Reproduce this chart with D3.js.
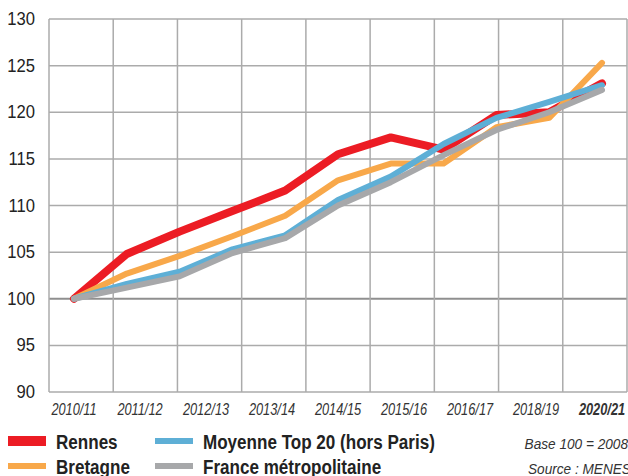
<!DOCTYPE html>
<html>
<head>
<meta charset="utf-8">
<script src="https://cdn.jsdelivr.net/npm/d3@7"></script>
<style>
  body { margin: 0; background: #fff; }
  svg text { font-family: "Liberation Sans", Arial, sans-serif; }
</style>
</head>
<body>
<div id="chart"></div>
<script>
// years of the series (one point a year)
var years = ["2010/11", "2011/12", "2012/13", "2013/14", "2014/15", "2015/16",
             "2016/17", "2017/18", "2018/19", "2019/20", "2020/21"];
// labels printed under the axis
var tickLabels = ["2010/11", "2011/12", "2012/13", "2013/14", "2014/15",
                  "2015/16", "2016/17", "2018/19", "2020/21"];
var yTicks = [90, 95, 100, 105, 110, 115, 120, 125, 130];

var rennes   = [100, 104.8, 107.2, 109.4, 111.6, 115.5, 117.3, 116.0, 119.7, 120.0, 123.1];
var bretagne = [100, 102.7, 104.6, 106.7, 108.9, 112.7, 114.5, 114.5, 118.4, 119.4, 125.3];
var top20    = [100, 101.6, 102.9, 105.3, 106.8, 110.6, 113.1, 116.6, 119.4, 121.1, 122.9];
var france   = [100, 101.2, 102.4, 104.9, 106.5, 110.0, 112.5, 115.4, 118.1, 120.0, 122.4];

var series = [
  {name: "Rennes", values: rennes, color: "#ec1c24", width: 8},
  {name: "Bretagne", values: bretagne, color: "#f8a84a", width: 6},
  {name: "Moyenne Top 20 (hors Paris)", values: top20, color: "#5eafd6", width: 6},
  {name: "France métropolitaine", values: france, color: "#a7a8aa", width: 6}
];

var W = 628, H = 476;
var mLeft = 49, mRight = 627, mTop = 19, mBottom = 392;

var svg = d3.select("#chart").append("svg")
    .attr("width", W).attr("height", H);

var y = d3.scaleLinear().domain([90, 130]).range([mBottom, mTop]);
var x = d3.scalePoint().domain(years).range([74, 602]);
var xLab = d3.scalePoint().domain(tickLabels).range([74, 602]);
var cols = d3.scaleLinear().domain([0, 9]).range([mLeft, mRight]);

// narrow text: place at (px,py) and squeeze horizontally
function squeeze(px, py, sx) {
  return "translate(" + px + "," + py + ") scale(" + sx + ",1)";
}

// grid
svg.append("g").selectAll("line").data(yTicks).enter().append("line")
    .attr("x1", mLeft).attr("x2", mRight)
    .attr("y1", function(d) { return y(d); }).attr("y2", function(d) { return y(d); })
    .attr("stroke", function(d) { return d == 100 ? "#8f8f8f" : "#ababab"; })
    .attr("stroke-width", function(d) { return d == 100 ? 2 : 1.5; });

svg.append("g").selectAll("line").data(d3.range(10)).enter().append("line")
    .attr("x1", function(d) { return cols(d); }).attr("x2", function(d) { return cols(d); })
    .attr("y1", mTop).attr("y2", mBottom)
    .attr("stroke", "#ababab").attr("stroke-width", 1.5);

// y labels
svg.append("g").selectAll("text").data(yTicks).enter().append("text")
    .attr("transform", function(d) { return squeeze(35, y(d) + 6, 0.95); })
    .attr("text-anchor", "end")
    .style("font-size", "17.5px").style("fill", "#222")
    .text(function(d) { return d; });

// x labels
svg.append("g").selectAll("text").data(tickLabels).enter().append("text")
    .attr("transform", function(d) { return squeeze(xLab(d), 415, 0.8); })
    .attr("text-anchor", "middle")
    .style("font-size", "16px").style("font-style", "italic")
    .style("font-weight", function(d, i) { return i == tickLabels.length - 1 ? "bold" : "normal"; })
    .style("fill", "#333")
    .text(function(d) { return d; });

// lines
var line = d3.line()
    .x(function(d, i) { return x(years[i]); })
    .y(function(d) { return y(d); });

svg.append("g").selectAll("path").data(series).enter().append("path")
    .attr("d", function(d) { return line(d.values); })
    .attr("fill", "none")
    .attr("stroke", function(d) { return d.color; })
    .attr("stroke-width", function(d) { return d.width; })
    .attr("stroke-linejoin", "round")
    .attr("stroke-linecap", "round");

// legend
var legPos = [[8, 441], [8, 466], [155, 441], [155, 466]];
var leg = svg.append("g").selectAll("g").data(series).enter().append("g")
    .attr("transform", function(d, i) { return "translate(" + legPos[i][0] + "," + legPos[i][1] + ")"; });
leg.append("rect")
    .attr("x", 0).attr("y", function(d) { return d.width == 8 ? -5 : -3; })
    .attr("width", 38).attr("height", function(d) { return d.width == 8 ? 10 : 6; })
    .attr("fill", function(d) { return d.color; });
leg.append("text")
    .attr("transform", squeeze(48, 8, 0.875))
    .style("font-size", "19.5px").style("font-weight", "bold").style("fill", "#222")
    .text(function(d) { return d.name; });

svg.append("text").attr("transform", squeeze(628, 449, 0.88)).attr("text-anchor", "end")
    .style("font-size", "15.5px").style("font-style", "italic").style("fill", "#333")
    .text("Base 100 = 2008");
svg.append("text").attr("transform", squeeze(528, 474, 0.88))
    .style("font-size", "15.5px").style("font-style", "italic").style("fill", "#333")
    .text("Source : MENESR");
</script>
</body>
</html>
